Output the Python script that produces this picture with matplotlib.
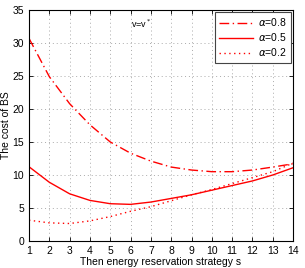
import numpy as np
import matplotlib
matplotlib.use("Agg")
import matplotlib.pyplot as plt

# datos
s = [1, 2, 3, 4, 5, 6, 7, 8, 9, 10, 11, 12, 13, 14]
coste_a08 = [30.7, 24.9, 20.8, 17.6, 15.0, 13.3, 12.1, 11.2, 10.75, 10.5, 10.5, 10.75, 11.2, 11.7]
coste_a05 = [11.25, 8.9, 7.15, 6.15, 5.65, 5.55, 5.9, 6.45, 7.0, 7.7, 8.4, 9.1, 10.0, 11.1]
coste_a02 = [3.15, 2.75, 2.65, 3.05, 3.7, 4.5, 5.2, 6.1, 7.0, 7.8, 8.7, 9.6, 10.5, 11.8]

plt.rcParams['font.family'] = ['Liberation Sans', 'DejaVu Sans']
plt.rcParams['mathtext.fontset'] = 'dejavusans'

fig = plt.figure(figsize=(3.05, 2.68), dpi=100)
ax = fig.add_axes([0.095, 0.1007, 0.866, 0.8623])

ax.plot(s, coste_a08, color="red", lw=1.0, ls=(0, (7, 2.5, 1, 2.5)), label=r"$\alpha$=0.8")
ax.plot(s, coste_a05, color="red", lw=1.0, ls="-", label=r"$\alpha$=0.5")
ax.plot(s, coste_a02, color="red", lw=1.0, ls=(0, (1, 2.5)), label=r"$\alpha$=0.2")

ax.set_xlim(1, 14)
ax.set_ylim(0, 35)
ax.set_xticks(range(1, 15))
ax.set_yticks(range(0, 36, 5))
ax.tick_params(direction="in", top=True, right=True, labelsize=7.5, length=3, width=0.6)
ax.grid(True, ls=(0, (1, 3)), color="#aaaaaa", lw=0.7)
for sp in ax.spines.values():
    sp.set_linewidth(0.8)

ax.set_xlabel("Then energy reservation strategy s", fontsize=7.5, labelpad=1)
ax.set_ylabel("The cost of BS", fontsize=7.5, labelpad=1)
ax.text(6.0, 32.3, r"v=v$^*$", fontsize=6.5)

leg = ax.legend(loc="upper right", fontsize=7.5, fancybox=False, framealpha=1,
                edgecolor="#444444", handlelength=3.2, borderaxespad=0.2,
                handletextpad=0.5, labelspacing=0.3)
leg.get_frame().set_linewidth(0.8)

fig.savefig("out.png", dpi=100)
